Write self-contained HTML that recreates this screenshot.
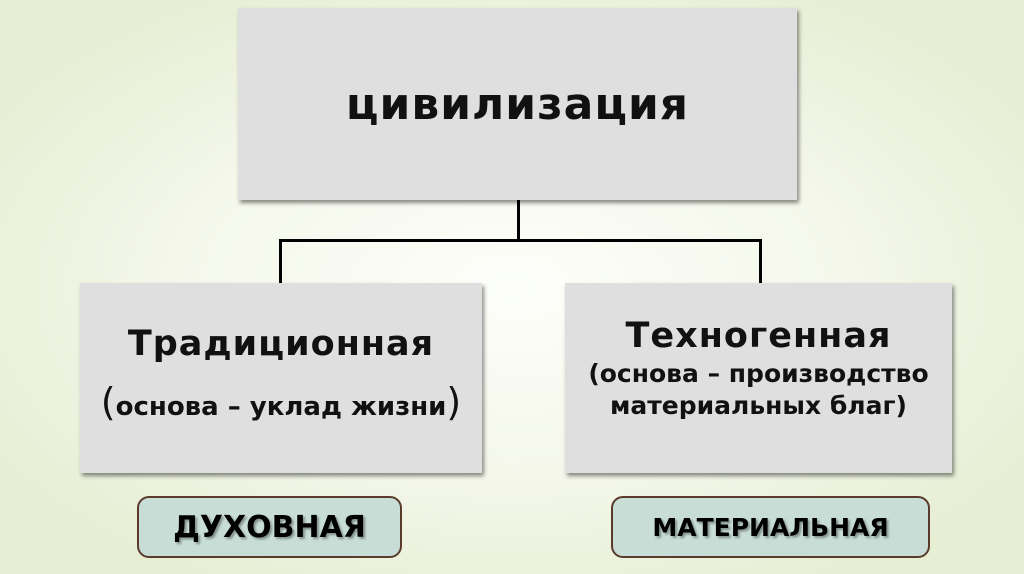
<!DOCTYPE html>
<html><head><meta charset="utf-8"><style>
body{margin:0;width:1024px;height:574px;overflow:hidden;background:radial-gradient(ellipse 60% 60% at 50% 50%,#fdfefa 0%,#f4f7ea 55%,#e6eed4 100%);font-family:"DejaVu Sans","Liberation Sans",sans-serif;position:relative}
.b{position:absolute;background:#dfdfdf;box-shadow:2px 3px 4px rgba(0,0,0,.45);display:flex;flex-direction:column;align-items:center;justify-content:center;text-align:center;color:#111}
.p{position:absolute;background:#c8ddd6;border:2px solid #5a3a2a;border-radius:12px;display:flex;align-items:center;justify-content:center;font-weight:bold;font-size:27px;color:#000;text-shadow:2px 2px 2px rgba(0,0,0,.35);box-sizing:border-box}
.l{position:absolute;background:#000}
</style></head><body>
<div class="b" style="left:238px;top:8px;width:559px;height:192px;font-size:44px;font-weight:bold;letter-spacing:1px">цивилизация</div>
<div class="l" style="left:517px;top:200px;width:3px;height:41px"></div>
<div class="l" style="left:279px;top:239px;width:483px;height:3px"></div>
<div class="l" style="left:279px;top:239px;width:3px;height:44px"></div>
<div class="l" style="left:759px;top:239px;width:3px;height:44px"></div>
<div class="b" style="left:80px;top:283px;width:402px;height:190px">
<div style="font-size:35px;font-weight:bold;letter-spacing:1px;margin-top:-8px">Традиционная</div>
<div style="font-size:26px;font-weight:bold;margin-top:16px"><span style="font-size:38px;font-weight:normal">(</span>основа – уклад жизни<span style="font-size:38px;font-weight:normal">)</span></div>
</div>
<div class="b" style="left:565px;top:283px;width:387px;height:190px">
<div style="font-size:35px;font-weight:bold;letter-spacing:1px;margin-top:-18px">Техногенная</div>
<div style="font-size:25px;font-weight:bold;line-height:32px;margin-top:2px">(основа – производство<br>материальных благ)</div>
</div>
<div class="p" style="left:137px;top:496px;width:265px;height:62px;font-size:30px">ДУХОВНАЯ</div>
<div class="p" style="left:611px;top:496px;width:319px;height:62px;font-size:25px">МАТЕРИАЛЬНАЯ</div>
</body></html>
